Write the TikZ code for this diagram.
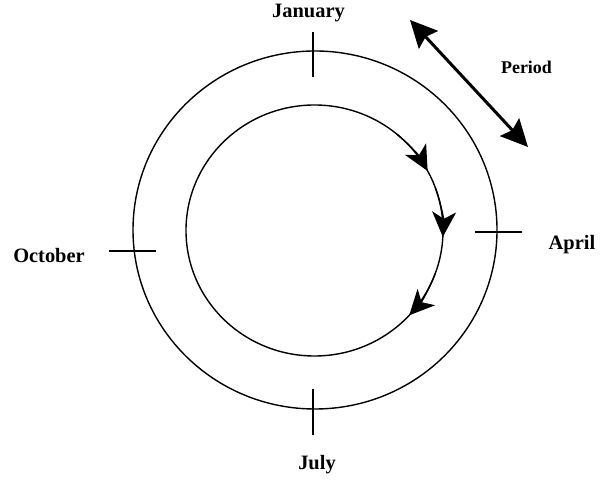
\documentclass[tikz,border=0pt]{standalone}
\usepackage{fontspec}
\setmainfont{Liberation Serif}
\usetikzlibrary{arrows.meta}
\begin{document}
\begin{tikzpicture}[x=1bp,y=1bp,
  ring/.style={line width=1.4bp},
  tick/.style={line width=1.4bp},
  month/.style={font=\bfseries\fontsize{20.5}{24}\selectfont, anchor=base, inner sep=0pt},
  flow/.style={line width=1.4bp, -{Stealth[length=25bp,width=24bp,inset=7bp]}},
  per/.style={line width=3bp, {Stealth[length=27bp,width=26bp,inset=4bp]}-{Stealth[length=27bp,width=26bp,inset=4bp]}}]
\useasboundingbox (0,0) rectangle (602,481);
% circles
\coordinate (oc) at (315,251);
\coordinate (ic) at (314.5,250.5);
\draw[ring] (oc) ellipse [x radius=182, y radius=179];
\draw[ring] (ic) ellipse [x radius=128.5, y radius=125.5];
% ticks
\coordinate (t1) at (313,449); \coordinate (t2) at (313,404);
\coordinate (b1) at (313,92);  \coordinate (b2) at (313,46);
\coordinate (l1) at (109,230); \coordinate (l2) at (156,230);
\coordinate (r1) at (475,249); \coordinate (r2) at (522,249);
\draw[tick] (t1) -- (t2);
\draw[tick] (b1) -- (b2);
\draw[tick] (l1) -- (l2);
\draw[tick] (r1) -- (r2);
% labels
\node[month] (jan) at (308.5,463) {January};
\node[month] (jul) at (317,11) {July};
\node[month] (oct) at (49,218) {October};
\node[month] (apr) at (572,231) {April};
\node[font=\bfseries\fontsize{18}{21}\selectfont, anchor=base, inner sep=0pt] (per) at (526.5,407) {Period};
% period arrow
\coordinate (p1) at (410,461);
\coordinate (p2) at (528,334);
\draw[per] (p1) -- (p2);
% flow arrows on inner circle
\draw[flow] (ic) ++(50:128.5 and 125.5) arc[start angle=50, end angle=28.3, x radius=128.5, y radius=125.5];
\draw[flow] (ic) ++(20:128.5 and 125.5) arc[start angle=20, end angle=-2.9, x radius=128.5, y radius=125.5];
\draw[flow] (ic) ++(-20:128.5 and 125.5) arc[start angle=-20, end angle=-42.5, x radius=128.5, y radius=125.5];
\end{tikzpicture}
\end{document}
